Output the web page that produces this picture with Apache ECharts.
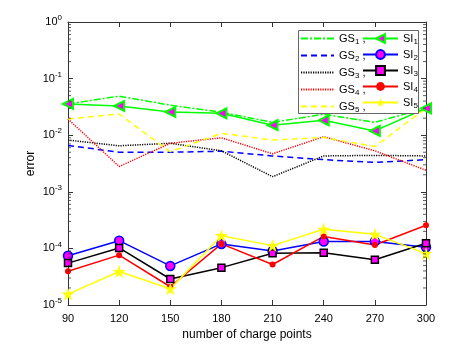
<!DOCTYPE html>
<html><head><meta charset="utf-8">
<script src="https://cdn.jsdelivr.net/npm/echarts@6/dist/echarts.min.js"></script>
<style>html,body{margin:0;padding:0;background:#fff}#c{width:472px;height:347px}</style>
</head><body><div id="c"></div>
<script>
var xVals = [90, 120, 150, 180, 210, 240, 270, 300];
var xTicks = [90, 120, 150, 180, 210, 240, 270, 300];
var yTickExps = [0, -1, -2, -3, -4, -5];
var GS1 = [0.0356, 0.049, 0.034, 0.0254, 0.0169, 0.0234, 0.0169, 0.0299];
var GS2 = [0.0066, 0.0050, 0.0050, 0.0052, 0.0043, 0.0037, 0.0033, 0.0037];
var GS3 = [0.0082, 0.0065, 0.0072, 0.0053, 0.00185, 0.0043, 0.0044, 0.0043];
var GS4 = [0.0193, 0.0028, 0.0072, 0.0090, 0.0047, 0.0094, 0.0053, 0.0024];
var GS5 = [0.0193, 0.0237, 0.0051, 0.0108, 0.0082, 0.0091, 0.0063, 0.0299];
var SI1 = [0.0356, 0.0328, 0.0257, 0.0244, 0.0150, 0.0183, 0.0119, 0.0299];
var SI2 = [7.4e-5, 1.37e-4, 4.9e-5, 1.2e-4, 9.0e-5, 1.32e-4, 1.33e-4, 1.05e-4];
var SI3 = [5.5e-5, 1.02e-4, 2.88e-5, 4.57e-5, 8.2e-5, 8.4e-5, 6.3e-5, 1.23e-4];
var SI4 = [3.94e-5, 7.6e-5, 2.1e-5, 1.2e-4, 5.2e-5, 1.63e-4, 1.15e-4, 2.56e-4];
var SI5 = [1.56e-5, 3.9e-5, 1.94e-5, 1.68e-4, 1.12e-4, 2.18e-4, 1.77e-4, 8.1e-5];

var minorVals = [];
for (var e = -5; e < 0; e++) for (var m = 2; m <= 9; m++) minorVals.push(m * Math.pow(10, e));

var star = 'path://M50,0L61.2,34.5L97.6,34.5L68.2,55.9L79.4,90.5L50,69.1L20.6,90.5L31.8,55.9L2.4,34.5L38.8,34.5Z';
function pts(arr){ return xVals.map(function(x,i){ return [x, arr[i]]; }); }
var FONT = 'Liberation Sans';
var green = '#00ff00', blue = '#0000ff', red = '#ff0000', yellow = '#ffff00', mag = '#ff00ff';

function gs(name, data, color, dash){
  return {name:name, type:'line', data:pts(data), showSymbol:false, symbol:'none',
    lineStyle:{color:color, width:1.5, type:dash}, itemStyle:{color:color}, z:2, animation:false};
}
function si(name, data, color, symbol, size, fill, bw, rot){
  return {name:name, type:'line', data:pts(data), symbol:symbol, symbolSize:size, symbolRotate:rot||0,
    lineStyle:{color:color, width:1.5, type:'solid'},
    itemStyle:{color:fill, borderColor:color, borderWidth:bw}, z:3, animation:false};
}

var series = [
  gs('GS1', GS1, green, [7,2,2,2]),
  gs('GS2', GS2, blue, [6,4]),
  gs('GS3', GS3, '#000', [1.2,1.2]),
  gs('GS4', GS4, red, [1.2,1.2]),
  gs('GS5', GS5, yellow, [6,4]),
  si('SI1', SI1, green, 'triangle', 10, mag, 2, 90),
  si('SI2', SI2, blue, 'circle', 9, mag, 1.5),
  si('SI3', SI3, '#000', 'rect', 7, mag, 1.5),
  si('SI4', SI4, red, 'circle', 6, red, 0),
  si('SI5', SI5, yellow, star, 13, yellow, 0),
  {type:'custom', silent:true, z:5, animation:false, data:minorVals.map(function(v){return [90, v];}),
    renderItem:function(params, api){
      var v = api.value(1);
      var pl = api.coord([90, v]);
      var pr = api.coord([300, v]);
      var st = {stroke:'#333', lineWidth:0.8};
      return {type:'group', children:[
        {type:'line', shape:{x1:pl[0], y1:pl[1], x2:pl[0]+3, y2:pl[1]}, style:st},
        {type:'line', shape:{x1:pr[0], y1:pr[1], x2:pr[0]-3, y2:pr[1]}, style:st}
      ]};
    }}
];

var rich = {n:{fontFamily:FONT, fontSize:11, color:'#000'}, s:{fontFamily:FONT, fontSize:8, color:'#000', padding:[6,0,0,0]}};
function legFmt(name){ return '{n|' + name.slice(0,name.length-1) + '}{s|' + name.slice(-1) + '}' + (name[0]==='G' ? '{n| ,}' : ''); }

var axLine = {show:true, lineStyle:{color:'#333', width:1}};
var option = {
  backgroundColor:'#fff',
  animation:false,
  grid:{left:68, right:46, top:22, bottom:42},
  graphic:[{type:'rect', left:298, top:30, shape:{width:120, height:83}, style:{fill:'#fff', stroke:'#666', lineWidth:1}, z:90}],
  legend:[
    {data:['GS1','GS2','GS3','GS4','GS5'], orient:'vertical', left:300, top:33, itemWidth:33, itemHeight:10, itemGap:4.5, padding:0,
     itemStyle:{opacity:0},
     formatter:legFmt, textStyle:{rich:rich}, z:100},
    {data:['SI1','SI2','SI3','SI4','SI5'], orient:'vertical', left:362, top:33, itemWidth:35, itemHeight:11, itemGap:3.5, padding:0,
     formatter:legFmt, textStyle:{rich:rich}, z:100}
  ],
  xAxis:[
    {type:'value', min:90, max:300, interval:30, position:'bottom',
     name:'number of charge points', nameLocation:'middle', nameGap:24, nameMoveOverlap:false,
     nameTextStyle:{fontFamily:FONT, fontSize:12, color:'#000'},
     axisLine:axLine, axisTick:{inside:true, length:5, lineStyle:{color:'#333'}},
     axisLabel:{fontFamily:FONT, fontSize:11, color:'#000', margin:8,
       formatter:function(v){ return xTicks.indexOf(v) >= 0 ? String(v) : ''; }},
     splitLine:{show:false}},
    {type:'value', min:90, max:300, interval:30, position:'top',
     axisLine:axLine, axisTick:{inside:true, length:5, lineStyle:{color:'#333'}},
     axisLabel:{show:false}, splitLine:{show:false}}
  ],
  yAxis:[
    {type:'log', logBase:10, min:1e-5, max:1, position:'left',
     name:'error', nameLocation:'middle', nameGap:31, nameRotate:90, nameMoveOverlap:false,
     nameTextStyle:{fontFamily:FONT, fontSize:12, color:'#000'},
     axisLine:axLine, axisTick:{inside:true, length:5, lineStyle:{color:'#333'}},
     axisLabel:{fontFamily:FONT, fontSize:11, color:'#000', margin:6,
       formatter:function(v){ var e = Math.round(Math.log10(v)); return yTickExps.indexOf(e) >= 0 ? '{b|10}{p|' + e + '}' : ''; },
       rich:{b:{fontFamily:FONT, fontSize:11, color:'#000'}, p:{fontFamily:FONT, fontSize:8, color:'#000', padding:[0,0,8,0]}}},
     splitLine:{show:false}},
    {type:'log', logBase:10, min:1e-5, max:1, position:'right',
     axisLine:axLine, axisTick:{inside:true, length:5, lineStyle:{color:'#333'}},
     axisLabel:{show:false}, splitLine:{show:false}}
  ],
  series:series
};
var chart = echarts.init(document.getElementById('c'), null, {renderer:'canvas'});
chart.setOption(option);
</script></body></html>
